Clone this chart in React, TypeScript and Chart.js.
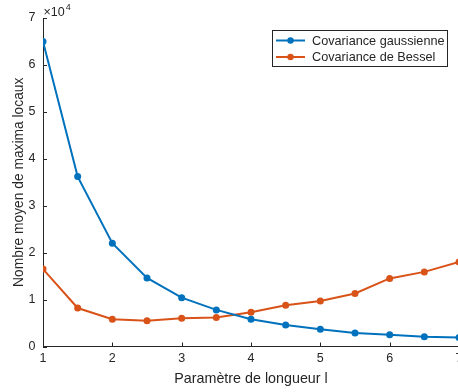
import React, { useEffect, useRef } from "react";
import { Chart, registerables } from "chart.js";

Chart.register(...registerables);

const xValues = [1, 1.5, 2, 2.5, 3, 3.5, 4, 4.5, 5, 5.5, 6, 6.5, 7];
const gaussienne = [65000, 36200, 22000, 14600, 10400, 7800, 5800, 4600, 3700, 2900, 2500, 2100, 1900];
const bessel = [16500, 8200, 5800, 5500, 6000, 6200, 7300, 8800, 9700, 11300, 14500, 15900, 18000];
const seriesLabels = ["Covariance gaussienne", "Covariance de Bessel"];
const seriesColors = ["#0072BD", "#D95319"];
const xTitle = "Paramètre de longueur l";
const yTitle = "Nombre moyen de maxima locaux";
const exponentBase = "×10";
const exponentPower = "4";

const FONT = '"Liberation Sans", Arial, Helvetica, sans-serif';
const AXIS = "#262626";

const inwardTicks = {
  id: "inwardTicks",
  afterDatasetsDraw(chart: any) {
    const { ctx, chartArea } = chart;
    const xs = chart.scales.x;
    const ys = chart.scales.y;
    ctx.save();
    ctx.strokeStyle = AXIS;
    ctx.lineWidth = 1;
    ctx.beginPath();
    xs.ticks.forEach((t: any) => {
      const px = Math.round(xs.getPixelForValue(t.value)) + 0.5;
      ctx.moveTo(px, chartArea.bottom);
      ctx.lineTo(px, chartArea.bottom - 4);
    });
    ys.ticks.forEach((t: any) => {
      const py = Math.round(ys.getPixelForValue(t.value)) + 0.5;
      ctx.moveTo(chartArea.left, py);
      ctx.lineTo(chartArea.left + 4, py);
    });
    ctx.stroke();
    ctx.fillStyle = AXIS;
    ctx.textBaseline = "alphabetic";
    ctx.textAlign = "left";
    ctx.font = `12.5px ${FONT}`;
    const bx = chartArea.left + 0.5;
    const by = 15.5;
    ctx.fillText(exponentBase, bx, by);
    const w = ctx.measureText(exponentBase).width;
    ctx.font = `9px ${FONT}`;
    ctx.fillText(exponentPower, bx + w + 1, by - 5.5);
    ctx.restore();
  },
};

const boxLegend = {
  id: "boxLegend",
  afterDraw(chart: any) {
    const { ctx } = chart;
    const left = 272.5;
    const top = 30.5;
    const width = 175;
    const height = 36;
    ctx.save();
    ctx.fillStyle = "#ffffff";
    ctx.fillRect(left, top, width, height);
    ctx.strokeStyle = AXIS;
    ctx.lineWidth = 1;
    ctx.strokeRect(left, top, width, height);
    chart.data.datasets.forEach((ds: any, i: number) => {
      const cy = 40.5 + i * 16.5;
      ctx.strokeStyle = ds.borderColor;
      ctx.lineWidth = 2;
      ctx.beginPath();
      ctx.moveTo(276, cy);
      ctx.lineTo(305, cy);
      ctx.stroke();
      ctx.fillStyle = ds.borderColor;
      ctx.beginPath();
      ctx.arc(290.5, cy, 3.2, 0, Math.PI * 2);
      ctx.fill();
      ctx.fillStyle = AXIS;
      ctx.font = `12.7px ${FONT}`;
      ctx.textBaseline = "middle";
      ctx.textAlign = "left";
      ctx.fillText(ds.label, 312, cy + 0.5);
    });
    ctx.restore();
  },
};

export default function App() {
  const canvasRef = useRef<HTMLCanvasElement | null>(null);

  useEffect(() => {
    if (!canvasRef.current) return;
    const makeData = (vals: number[]) => xValues.map((x, i) => ({ x, y: vals[i] }));
    const chart = new Chart(canvasRef.current, {
      type: "line",
      data: {
        datasets: [
          {
            label: seriesLabels[0],
            data: makeData(gaussienne),
            borderColor: seriesColors[0],
            backgroundColor: seriesColors[0],
            borderWidth: 2,
            pointRadius: 3.5,
            pointBorderWidth: 0,
            pointBackgroundColor: seriesColors[0],
            tension: 0,
          },
          {
            label: seriesLabels[1],
            data: makeData(bessel),
            borderColor: seriesColors[1],
            backgroundColor: seriesColors[1],
            borderWidth: 2,
            pointRadius: 3.5,
            pointBorderWidth: 0,
            pointBackgroundColor: seriesColors[1],
            tension: 0,
          },
        ],
      },
      options: {
        responsive: false,
        animation: false,
        devicePixelRatio: 1,
        layout: { padding: { top: 18, left: 0, right: 0, bottom: 0 } },
        plugins: {
          legend: { display: false },
          tooltip: { enabled: false },
        },
        scales: {
          x: {
            type: "linear",
            min: 1,
            max: 7,
            ticks: {
              stepSize: 1,
              color: AXIS,
              font: { family: FONT, size: 12.5 },
              padding: 5,
              maxRotation: 0,
              autoSkip: false,
            },
            grid: { display: false, drawTicks: false, tickLength: 0 },
            border: { display: true, color: AXIS, width: 1 },
            title: {
              display: true,
              text: xTitle,
              color: AXIS,
              font: { family: FONT, size: 14.3 },
              padding: { top: 0, bottom: 4 },
            },
            afterFit(scale: any) {
              scale.height = 45.5;
              scale.paddingLeft = 0;
              scale.paddingRight = 0;
            },
          },
          y: {
            min: 0,
            max: 70000,
            ticks: {
              stepSize: 10000,
              color: AXIS,
              font: { family: FONT, size: 12.5 },
              padding: 7.5,
              callback: (v: any) => String(Number(v) / 10000),
            },
            grid: { display: false, drawTicks: false, tickLength: 0 },
            border: { display: true, color: AXIS, width: 1 },
            title: {
              display: true,
              text: yTitle,
              color: AXIS,
              font: { family: FONT, size: 13.8 },
              padding: { top: 10.5, bottom: 0 },
            },
            afterFit(scale: any) {
              scale.width = 43;
            },
          },
        },
      },
      plugins: [inwardTicks, boxLegend],
    });
    return () => chart.destroy();
  }, []);

  return (
    <div
      style={{
        position: "fixed",
        left: 0,
        top: 0,
        width: 458,
        height: 392,
        overflow: "hidden",
        background: "#ffffff",
      }}
    >
      <canvas ref={canvasRef} width={463} height={392} style={{ display: "block", width: 463, height: 392 }} />
    </div>
  );
}
